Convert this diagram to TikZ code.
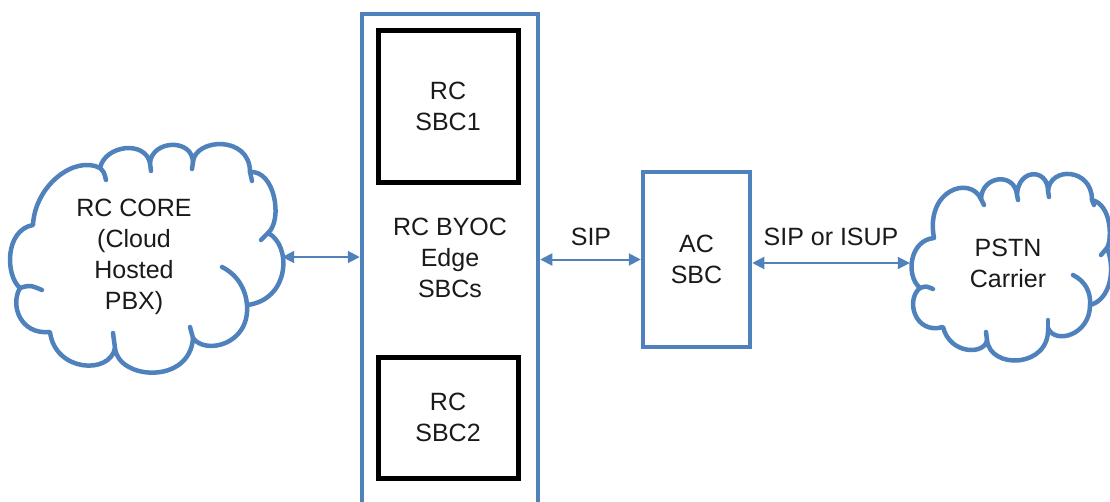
\documentclass[tikz,border=0pt]{standalone}
\usepackage{fontspec}
\setmainfont{Liberation Sans}
\usetikzlibrary{arrows.meta}
\definecolor{obl}{HTML}{4F81BD}
\definecolor{txt}{HTML}{1A1A1A}
\begin{document}
\begin{tikzpicture}[x=1pt,y=-1pt,
  lbl/.style={font=\fontsize{25}{31}\selectfont, text=txt, align=center, inner sep=0pt},
  bluebox/.style={draw=obl, line width=4.5pt, inner sep=0pt},
  blackbox/.style={draw=black, line width=5pt, inner sep=0pt},
  cloudline/.style={draw=obl, line width=4.5pt, line cap=round, line join=round},
  arr/.style={draw=obl, line width=2pt, {Triangle[length=12pt,width=12pt]}-{Triangle[length=12pt,width=12pt]}}]
\useasboundingbox (0,0) rectangle (1110,501);
\clip (0,0) rectangle (1110,501);
% outer BYOC rectangle
\node[bluebox, minimum width=176pt, minimum height=540pt] (byoc) at (450,284) {};
\node[lbl] (byoctext) at (450,258) {RC BYOC\\Edge\\SBCs};
\node[blackbox, minimum width=140pt, minimum height=152pt, lbl] (sbc1) at (448,106) {RC\\SBC1};
\node[blackbox, minimum width=140pt, minimum height=121pt, lbl] (sbc2) at (448,417.5) {RC\\SBC2};
% AC SBC
\node[bluebox, minimum width=107pt, minimum height=175pt, lbl] (ac) at (696.5,259.5) {AC\\SBC};
% cloud nodes (text + anchors)
\node[lbl, minimum width=296pt] (core) at (134,257) {RC CORE\\(Cloud\\Hosted\\PBX)};
\node[lbl, minimum width=196pt] (pstn) at (1008,263) {PSTN\\Carrier};
% left cloud outline
\draw[cloudline] (33,225)
  .. controls (35,185) and (75,155) .. (100,168)
  .. controls (105,145) and (145,140) .. (150,163)
  .. controls (152,140) and (192,138) .. (193,162)
  .. controls (195,138) and (250,135) .. (250,172)
  .. controls (275,170) and (283,220) .. (268,233)
  .. controls (292,245) and (290,300) .. (247,305)
  .. controls (250,345) and (205,355) .. (193,338)
  .. controls (190,385) and (118,380) .. (115,348)
  .. controls (110,375) and (55,372) .. (50,332)
  .. controls (20,335) and (10,305) .. (20,288)
  .. controls (5,275) and (5,230) .. (33,225) -- cycle;
\draw[cloudline] (100,168) .. controls (104,172) .. (106,180);
\draw[cloudline] (150,163) .. controls (151,167) .. (151,171);
\draw[cloudline] (193,162) .. controls (193,166) .. (192,169);
\draw[cloudline] (250,172) .. controls (251,176) .. (252,181);
\draw[cloudline] (268,233) .. controls (265,236) .. (261,240);
\draw[cloudline] (222,267) .. controls (238,275) and (246,290) .. (247,305);
\draw[cloudline] (193,338) .. controls (191,333) .. (190,327);
\draw[cloudline] (115,348) .. controls (114,341) .. (113,333);
\draw[cloudline] (20,288) .. controls (30,285) .. (42,290);
% right cloud outline
\draw[cloudline] (934,238)
  .. controls (925,190) and (970,175) .. (981,199)
  .. controls (982,175) and (1015,172) .. (1017,195)
  .. controls (1018,168) and (1048,168) .. (1048,191)
  .. controls (1050,166) and (1092,168) .. (1092,200)
  .. controls (1112,205) and (1112,240) .. (1107,248)
  .. controls (1116,270) and (1110,300) .. (1090,305)
  .. controls (1090,335) and (1055,345) .. (1048,328)
  .. controls (1050,368) and (990,370) .. (987,340)
  .. controls (985,355) and (950,355) .. (943,327)
  .. controls (915,335) and (905,300) .. (920,288)
  .. controls (905,275) and (910,240) .. (934,238) -- cycle;
\draw[cloudline] (981,199) .. controls (982,202) .. (984,205);
\draw[cloudline] (1017,195) .. controls (1017,197) .. (1018,200);
\draw[cloudline] (1048,191) .. controls (1048,194) .. (1049,197);
\draw[cloudline] (1092,200) .. controls (1093,203) .. (1094,205);
\draw[cloudline] (1107,248) .. controls (1104,251) .. (1101,255);
\draw[cloudline] (1073,275) .. controls (1085,281) and (1091,292) .. (1090,305);
\draw[cloudline] (1048,328) .. controls (1048,324) .. (1048,320);
\draw[cloudline] (987,340) .. controls (986,336) .. (986,332);
\draw[cloudline] (920,288) .. controls (926,286) .. (933,289);
% connectors
\draw[arr] (core.east) -- (core.east -| byoc.west);
\draw[arr] (byoc.east |- ac.west) -- (ac.west);
\draw[arr] (ac.east |- pstn.west) -- (pstn.west);
\node[lbl] (sip1) at (591,237) {SIP};
\node[lbl] (sip2) at (831,237) {SIP or ISUP};
\end{tikzpicture}
\end{document}
